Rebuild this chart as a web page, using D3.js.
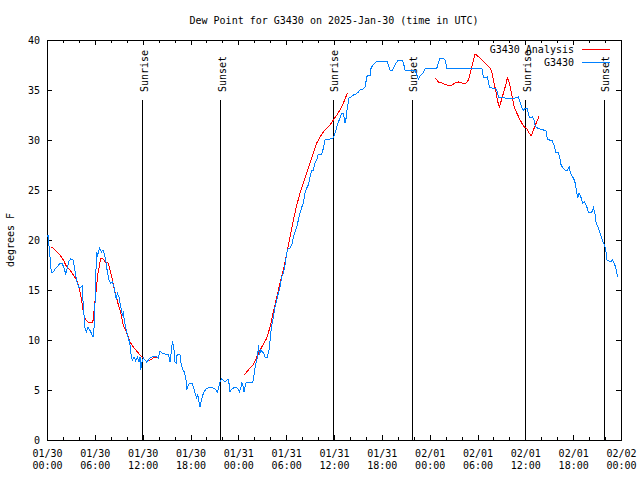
<!DOCTYPE html>
<html><head><meta charset="utf-8">
<script src="https://cdn.jsdelivr.net/npm/d3@7/dist/d3.min.js"></script>
<style>
html,body{margin:0;padding:0;background:#fff;}
svg{display:block;}
text{font-family:"DejaVu Sans Mono","Liberation Mono",monospace;font-size:10px;fill:#000;}
</style></head>
<body>
<script>
// ---- data (hours since 2025-01-30 00:00 UTC, degrees F) ----
const titleText = "Dew Point for G3430 on 2025-Jan-30 (time in UTC)";
const yLabel = "degrees F";
const xTickHours = [0,6,12,18,24,30,36,42,48,54,60,66,72];
const xTickLabels = ["01/30\n00:00","01/30\n06:00","01/30\n12:00","01/30\n18:00","01/31\n00:00","01/31\n06:00","01/31\n12:00","01/31\n18:00","02/01\n00:00","02/01\n06:00","02/01\n12:00","02/01\n18:00","02/02\n00:00"];
const yTicks = [0,5,10,15,20,25,30,35,40];
const sunHours = [11.98,21.79,35.93,45.83,60.03,69.9];
const sunLabels = ["Sunrise","Sunset","Sunrise","Sunset","Sunrise","Sunset"];
const seriesNames = ["G3430 Analysis","G3430"];

const obsHours = [0,0.13,0.38,0.54,0.79,1.09,1.29,1.63,1.88,2.13,2.35,2.55,2.76,2.97,3.26,3.39,3.60,3.80,4.02,4.23,4.43,4.52,4.64,4.73,4.93,5.14,5.36,5.56,5.77,5.90,5.98,6.11,6.19,6.31,6.44,6.61,6.81,7.03,7.24,7.40,7.57,7.78,7.99,8.19,8.41,8.53,8.70,8.82,9.03,9.25,9.45,9.57,9.75,9.95,10.16,10.38,10.50,10.70,10.92,11.13,11.33,11.54,11.67,11.76,11.88,12.08,12.30,12.51,12.71,12.92,13.34,13.76,13.96,14.18,14.39,14.81,15.22,15.43,15.52,15.65,15.72,15.85,15.97,16.06,16.19,16.27,16.47,16.69,16.81,17.03,17.23,17.44,17.53,17.73,17.94,18.16,18.36,18.57,18.78,18.91,19.03,19.20,19.36,19.54,19.70,19.95,20.24,20.54,20.87,21.20,21.37,21.54,21.71,21.92,22.12,22.33,22.55,22.71,22.87,22.96,23.17,23.38,23.59,23.80,24.00,24.13,24.30,24.43,24.56,24.72,24.84,24.97,25.13,25.38,25.60,25.81,25.97,26.10,26.31,26.44,26.51,26.64,26.81,27.01,27.19,27.35,27.64,27.85,27.98,28.19,28.39,28.61,28.82,29.02,29.23,29.45,29.65,29.86,30.08,30.28,30.49,30.70,30.90,31.12,31.33,31.53,31.74,31.96,32.16,32.37,32.58,32.78,33.00,33.21,33.41,33.63,33.84,34.04,34.47,34.67,34.88,35.51,35.92,36.14,36.35,36.55,36.76,36.98,37.18,37.39,37.52,37.68,37.89,38.14,38.43,38.77,39.06,39.27,39.69,39.90,40.11,40.31,40.53,40.65,40.87,41.15,41.37,42.62,42.82,43.04,43.37,43.58,43.88,44.08,44.50,44.71,44.92,46.17,46.39,46.59,46.71,46.89,47.14,47.43,47.64,48.90,49.10,49.31,49.72,49.94,50.15,54.54,54.74,55.08,55.25,55.50,55.80,56.21,56.42,56.62,56.75,57.05,57.47,57.88,58.31,58.72,59.13,59.35,59.56,59.76,60.06,60.26,60.39,60.60,60.89,61.10,61.23,61.52,61.86,62.27,62.57,62.77,63.02,63.32,63.65,63.78,64.15,64.37,64.49,64.71,64.99,65.28,65.50,65.62,65.83,66.04,66.25,66.46,66.59,66.75,66.96,67.21,67.41,67.63,67.92,68.22,68.42,68.55,68.76,68.88,69.10,69.30,69.47,69.72,69.92,70.10,70.22,70.51,70.72,70.93,71.14,71.35,71.56];
const obsValues = [20.3,20.5,18.3,16.7,16.8,17.2,17.3,17.7,17.7,17.2,16.6,17.2,17.9,18.1,18.0,17.5,16.5,15.7,15.2,15.3,15.4,13.8,12.5,11.3,10.8,11.3,11.0,10.7,10.3,11.2,12.8,15.5,18.8,18.3,18.8,19.2,18.8,19.0,18.5,17.8,16.8,16.0,15.7,15.8,15.3,14.7,14.0,14.7,14.3,13.3,12.5,12.7,11.7,11.0,10.3,9.7,8.8,8.0,8.3,7.9,8.3,7.8,8.3,7.0,7.7,8.2,8.0,7.8,8.0,8.2,8.4,8.3,8.2,8.9,8.7,8.6,8.6,7.8,8.4,9.2,9.9,9.5,8.7,7.8,7.7,8.4,8.6,8.5,7.7,7.0,6.8,6.0,5.0,5.5,5.7,5.7,5.3,4.7,4.2,4.5,4.0,3.3,4.0,4.5,4.8,5.1,5.2,5.3,5.2,5.0,4.8,5.3,5.8,6.1,6.0,5.8,6.0,6.1,5.5,4.8,5.1,5.2,5.3,5.2,5.1,4.8,5.2,5.7,5.5,4.8,5.3,5.7,5.8,5.7,5.8,5.8,6.5,7.3,8.0,8.5,9.5,8.5,9.0,8.8,8.7,8.3,8.3,9.0,10.0,11.5,12.3,13.3,14.0,14.7,15.3,16.3,16.7,17.5,18.7,19.2,19.2,19.5,20.3,20.8,21.3,22.0,22.7,23.3,23.7,24.7,25.2,25.5,26.3,27.0,27.0,27.7,28.0,28.6,28.6,29.2,30.0,30.1,30.2,30.7,31.3,31.8,32.2,32.7,32.7,31.7,32.2,33.3,34.2,34.3,34.5,34.6,34.8,35.0,35.1,35.3,36.3,36.5,36.5,37.2,37.5,37.7,37.9,37.9,37.5,37.0,37.0,37.4,37.8,38.0,38.0,37.7,37.0,37.0,36.5,36.1,36.3,36.5,36.7,37.1,37.2,37.2,37.7,38.2,38.2,38.0,37.2,37.2,36.3,36.2,36.3,35.3,35.2,35.2,35.0,34.3,34.2,34.3,34.2,34.2,34.2,34.2,34.3,33.8,33.2,33.0,33.2,33.2,32.5,32.2,32.3,32.0,31.4,31.2,31.1,31.0,31.0,30.1,30.0,30.0,29.4,28.8,28.7,28.0,27.5,27.2,27.0,27.0,27.3,26.8,26.4,26.2,25.7,24.7,24.3,24.7,24.3,23.7,23.8,23.5,22.8,22.7,22.9,23.2,22.5,21.7,21.3,20.9,20.5,19.8,19.5,19.0,18.0,17.9,17.8,18.0,17.7,17.2,16.3];

// analysis series; null marks a gap between runs
const anaHours = [0.59,1.63,2.05,2.47,2.89,3.30,3.73,4.05,4.27,4.48,4.68,4.89,5.18,5.61,5.81,5.93,6.11,6.36,6.65,6.78,7.06,7.28,7.69,7.90,8.12,8.32,8.53,8.75,8.95,9.16,9.37,9.57,10.00,10.41,10.83,11.25,11.67,12.08,12.51,12.92,13.34,13.76,
  19.0,
  24.72,25.47,25.88,26.31,26.94,27.57,27.98,28.39,28.82,29.23,29.65,30.08,30.49,30.90,31.33,31.74,32.16,32.58,33.00,33.41,33.84,34.25,34.67,35.09,35.51,35.92,36.35,36.76,37.18,37.68,
  43.0,
  48.68,49.10,49.52,50.15,50.78,51.19,51.61,52.03,52.57,52.86,53.29,53.70,54.33,54.96,55.58,55.80,56.00,56.34,56.55,56.75,56.93,57.18,57.47,57.75,58.01,58.31,58.60,58.93,59.35,59.76,60.19,60.48,60.73,61.02,61.36,61.73];
const anaValues = [19.3,18.5,18.0,17.3,17.0,16.5,16.0,15.2,14.3,13.2,12.3,12.0,11.8,11.7,12.0,13.2,14.5,16.5,17.8,18.2,18.1,17.8,17.7,17.0,16.3,15.5,14.8,14.2,13.5,13.0,12.3,11.5,10.7,9.8,9.3,8.9,8.5,8.2,7.8,8.0,8.2,8.3,
  null,
  6.5,7.2,7.5,8.3,9.3,10.2,11.3,12.8,14.3,15.7,17.0,18.7,20.3,22.0,23.5,24.7,25.7,26.7,27.7,28.7,29.7,30.3,30.8,31.2,31.5,32.0,32.5,33.0,33.7,34.7,
  null,
  36.2,35.8,35.7,35.5,35.5,35.7,35.8,35.7,35.7,36.0,37.3,38.6,38.2,37.7,37.2,36.8,36.0,34.7,33.8,33.3,33.8,34.5,35.3,36.2,35.7,34.5,33.3,32.7,32.0,31.4,31.1,30.7,30.4,31.0,31.7,32.4];

const colors = {analysis:"#ff0000", obs:"#0080ff"};

// ---- chart ----
const W = 640, H = 480;
const L = 47, R = 621, T = 40, B = 440;
const svg = d3.select("body").append("svg").attr("width",W).attr("height",H);

const x = d3.scaleLinear().domain([0,72]).range([L,R]);
const y = d3.scaleLinear().domain([0,40]).range([B,T]);

svg.append("text").attr("x",(L+R)/2).attr("y",24).attr("text-anchor","middle").text(titleText);

svg.append("text").attr("transform",`translate(14,${(T+B)/2}) rotate(-90)`)
  .attr("text-anchor","middle").text(yLabel);

const minorHours = d3.range(0,73,2).filter(h=>h%6!==0);

function styleAxis(g){
  g.select(".domain").remove();
  g.selectAll("line").attr("stroke","#000").attr("shape-rendering","crispEdges");
  g.attr("font-family",null).attr("font-size",null);
}

// bottom major with labels
const gxb = svg.append("g").attr("transform",`translate(0,${B})`)
  .call(d3.axisBottom(x).tickValues(xTickHours).tickSize(-5).tickPadding(0)
    .tickFormat((d,i)=>xTickLabels[i]));
styleAxis(gxb);
gxb.selectAll(".tick text").each(function(){
  const t = d3.select(this); const parts = t.text().split("\n");
  t.text(null).attr("dy",null).attr("y",null);
  parts.forEach((p,k)=>t.append("tspan").attr("x",0).attr("y",17+k*12).text(p));
});
svg.append("g").attr("transform",`translate(0,${B})`)
  .call(d3.axisBottom(x).tickValues(minorHours).tickSize(-3).tickFormat("")).call(styleAxis);
// top mirror
svg.append("g").attr("transform",`translate(0,${T})`)
  .call(d3.axisTop(x).tickValues(xTickHours).tickSize(-5).tickFormat("")).call(styleAxis);
svg.append("g").attr("transform",`translate(0,${T})`)
  .call(d3.axisTop(x).tickValues(minorHours).tickSize(-3).tickFormat("")).call(styleAxis);
// left
const gyl = svg.append("g").attr("transform",`translate(${L},0)`)
  .call(d3.axisLeft(y).tickValues(yTicks).tickSize(-5).tickPadding(7));
styleAxis(gyl);
// right mirror
svg.append("g").attr("transform",`translate(${R},0)`)
  .call(d3.axisRight(y).tickValues(yTicks).tickSize(-5).tickFormat("")).call(styleAxis);

// border
svg.append("rect").attr("x",L).attr("y",T).attr("width",R-L).attr("height",B-T)
  .attr("fill","none").attr("stroke","#000").attr("shape-rendering","crispEdges");

// sunrise / sunset lines
sunHours.forEach((h,i)=>{
  const px = x(h);
  svg.append("line").attr("x1",px).attr("x2",px).attr("y1",100).attr("y2",B)
    .attr("stroke","#000").attr("shape-rendering","crispEdges");
  svg.append("text").attr("transform",`translate(${px+5},92) rotate(-90)`)
    .attr("text-anchor","start").text(sunLabels[i]);
});

// series
const line = d3.line().defined(d=>d[1]!==null).x(d=>x(d[0])).y(d=>y(d[1]));
const obsData = obsHours.map((h,i)=>[h,obsValues[i]]);
const anaData = anaHours.map((h,i)=>[h,anaValues[i]]);

svg.append("path").datum(anaData).attr("d",line).attr("fill","none")
  .attr("stroke",colors.analysis).attr("stroke-width",1).attr("shape-rendering","crispEdges");
svg.append("path").datum(obsData).attr("d",line).attr("fill","none")
  .attr("stroke",colors.obs).attr("stroke-width",1).attr("shape-rendering","crispEdges");

// legend
const lg = [{name:seriesNames[0],c:colors.analysis,y:49},{name:seriesNames[1],c:colors.obs,y:62}];
lg.forEach(d=>{
  svg.append("text").attr("x",574).attr("y",d.y+4).attr("text-anchor","end").text(d.name);
  svg.append("line").attr("x1",582).attr("x2",610).attr("y1",d.y).attr("y2",d.y)
    .attr("stroke",d.c).attr("shape-rendering","crispEdges");
});
</script>
</body></html>
